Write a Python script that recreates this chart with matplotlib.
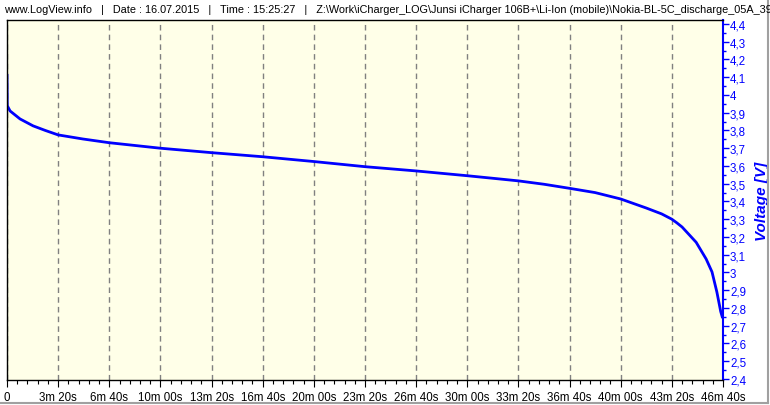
import matplotlib
matplotlib.use("Agg")
import matplotlib.pyplot as plt
from matplotlib.ticker import MultipleLocator, FuncFormatter
from matplotlib.lines import Line2D

plt.rcParams['font.family'] = ['Liberation Sans', 'DejaVu Sans']

# --- Data ---
time_s = [0, 1, 12, 25, 51, 102, 150, 200, 297, 400, 600, 800, 1000, 1200,
          1400, 1600, 1800, 1925, 2000, 2100, 2200, 2300, 2400, 2500, 2560,
          2600, 2620, 2640, 2695, 2734, 2757, 2776, 2791, 2797]
voltage = [4.11, 3.94, 3.91, 3.895, 3.865, 3.826, 3.80, 3.775, 3.752, 3.731,
           3.700, 3.675, 3.652, 3.625, 3.596, 3.572, 3.545, 3.527, 3.516,
           3.497, 3.474, 3.450, 3.414, 3.363, 3.33, 3.30, 3.279, 3.256, 3.17,
           3.076, 3.003, 2.89, 2.78, 2.75]

header = ("www.LogView.info   |   Date : 16.07.2015   |   Time : 15:25:27   |   "
          "Z:\\Work\\iCharger_LOG\\Junsi iCharger 106B+\\Li-Ion (mobile)\\"
          "Nokia-BL-5C_discharge_05A_390")

blue = '#0000FF'

fig = plt.figure(figsize=(7.7, 4.06), dpi=100)
fig.patch.set_facecolor('white')
ax = fig.add_axes([7 / 770, 25 / 406, 716 / 770, 360 / 406])
ax.set_facecolor('#FFFFE8')

ax.plot(time_s, voltage, color=blue, lw=2.0)

ax.set_xlim(0, 2800)
ax.set_ylim(2.394, 4.4225)

# x axis: mm ss labels
def fmt_time(v, pos):
    v = int(round(v))
    if v == 0:
        return "0"
    return "%dm %02ds" % (v // 60, v % 60)

ax.xaxis.set_major_locator(MultipleLocator(200))
ax.xaxis.set_minor_locator(MultipleLocator(40))
ax.xaxis.set_major_formatter(FuncFormatter(fmt_time))
ax.tick_params(axis='x', which='major', direction='out', length=5, width=0.8,
               colors='black', labelsize=8.3, pad=3)
ax.tick_params(axis='x', which='minor', direction='out', length=3, width=0.8,
               colors='black')
ax.grid(axis='x', which='major', color='#808080', linestyle=(0, (4, 3)), lw=1)

# y axis on the right, comma decimals
ax.yaxis.tick_right()
ax.yaxis.set_label_position('right')
ax.yaxis.set_major_locator(MultipleLocator(0.1))
ax.yaxis.set_minor_locator(MultipleLocator(0.05))
ax.yaxis.set_major_formatter(
    FuncFormatter(lambda v, p: ("%g" % round(v, 1)).replace('.', ',')))
ax.tick_params(axis='y', which='major', direction='out', length=4, width=1,
               colors=blue, labelsize=8.3, pad=1)
ax.tick_params(axis='y', which='minor', direction='out', length=2, width=1,
               colors=blue)
ax.set_ylabel("Voltage [V]", color=blue, fontsize=11, fontweight='bold',
              fontstyle='italic', rotation=90, labelpad=6)

for side in ['left', 'top', 'bottom']:
    ax.spines[side].set_color('black')
    ax.spines[side].set_linewidth(1)
ax.spines['right'].set_color(blue)
ax.spines['right'].set_linewidth(1.5)

# header line (clipped at the right edge, as in the original window)
fig.text(4 / 770, 1 - 10 / 406, header, fontsize=7.8, va='center', ha='left')

# window frame lines at right and bottom
fig.add_artist(Line2D([768 / 770, 768 / 770], [2 / 406, 1], color='#A0A0A0', lw=1.5))
fig.add_artist(Line2D([0, 768 / 770], [2 / 406, 2 / 406], color='#A0A0A0', lw=1.5))

fig.savefig("out.png", dpi=100)
